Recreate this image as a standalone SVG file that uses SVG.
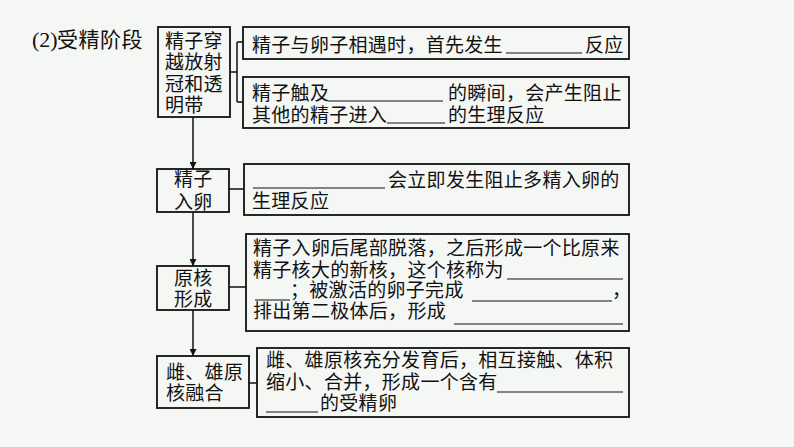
<svg xmlns="http://www.w3.org/2000/svg" width="794" height="447" viewBox="0 0 794 447">
<defs>
<marker id="ah" viewBox="0 0 10 10" refX="10" refY="5" markerWidth="7" markerHeight="7" markerUnits="userSpaceOnUse" orient="auto">
<path d="M0,0 L10,5 L0,10 Z" fill="#111"/>
</marker>
<style>
.bx{fill:none;stroke:#111;stroke-width:1.8}
.cn{fill:none;stroke:#111;stroke-width:1.5}
.t{font-family:"Noto Sans CJK SC","Liberation Sans",sans-serif;font-size:19px;fill:#111;letter-spacing:0.3px}
.ul{stroke:#111;stroke-width:1.2}
</style>
</defs>
<rect width="794" height="447" fill="#f4f7f4"/>
<g id="title">
<text x="32" y="47" font-family="Liberation Serif,serif" font-size="22" fill="#111">(2)</text>
<text x="57" y="47" class="t" style="font-size:21px;letter-spacing:0.5px">受精阶段</text>
</g>
<g id="connectors">
<path class="cn" d="M230,72 H237 M237,42 V102 M237,42 H243 M237,102 H243"/>
<path class="cn" d="M229,189 H244"/>
<path class="cn" d="M229,287 H246"/>
<path class="cn" d="M249,383 H257"/>
<line class="cn" x1="193" y1="117" x2="193" y2="169" marker-end="url(#ah)"/>
<line class="cn" x1="193" y1="212" x2="193" y2="266" marker-end="url(#ah)"/>
<line class="cn" x1="193" y1="310" x2="193" y2="356" marker-end="url(#ah)"/>
</g>
<g id="n1">
<rect class="bx" x="158" y="27" width="72" height="90"/>
<text class="t" x="165" y="48">精子穿</text>
<text class="t" x="165" y="69">越放射</text>
<text class="t" x="165" y="91">冠和透</text>
<text class="t" x="165" y="112">明带</text>
</g>
<g id="nA">
<rect class="bx" x="243" y="27" width="386" height="32"/>
<text class="t" x="252" y="52">精子与卵子相遇时，首先发生</text>
<line class="ul" x1="506" y1="53" x2="582" y2="53"/>
<text class="t" x="585" y="52">反应</text>
</g>
<g id="nB">
<rect class="bx" x="243" y="77" width="386" height="51"/>
<text class="t" x="252" y="100">精子触及</text>
<line class="ul" x1="328" y1="101" x2="443" y2="101"/>
<text class="t" x="448" y="100">的瞬间，会产生阻止</text>
<text class="t" x="252" y="122">其他的精子进入</text>
<line class="ul" x1="387" y1="123" x2="445" y2="123"/>
<text class="t" x="448" y="122">的生理反应</text>
</g>
<g id="n2">
<rect class="bx" x="157" y="169" width="72" height="43"/>
<text class="t" x="174" y="186">精子</text>
<text class="t" x="174" y="209">入卵</text>
</g>
<g id="nC">
<rect class="bx" x="244" y="164" width="385" height="51"/>
<line class="ul" x1="253" y1="188" x2="385" y2="188"/>
<text class="t" x="388" y="187">会立即发生阻止多精入卵的</text>
<text class="t" x="252" y="208">生理反应</text>
</g>
<g id="n3">
<rect class="bx" x="157" y="266" width="72" height="44"/>
<text class="t" x="174" y="285">原核</text>
<text class="t" x="174" y="306">形成</text>
</g>
<g id="nD">
<rect class="bx" x="246" y="234" width="383" height="97"/>
<text class="t" x="253" y="255">精子入卵后尾部脱落，之后形成一个比原来</text>
<text class="t" x="253" y="277">精子核大的新核，这个核称为</text>
<line class="ul" x1="507" y1="279" x2="623" y2="279"/>
<line class="ul" x1="255" y1="300" x2="290" y2="300"/>
<text class="t" x="290" y="297">；被激活的卵子完成</text>
<line class="ul" x1="472" y1="301" x2="612" y2="301"/>
<text class="t" x="612" y="297">，</text>
<text class="t" x="253" y="318">排出第二极体后，形成</text>
<line class="ul" x1="454" y1="324" x2="623" y2="324"/>
</g>
<g id="n4">
<rect class="bx" x="157" y="356" width="92" height="52"/>
<text class="t" x="166" y="379">雌、雄原</text>
<text class="t" x="166" y="400">核融合</text>
</g>
<g id="nE">
<rect class="bx" x="257" y="348" width="372" height="69"/>
<text class="t" x="266" y="367">雌、雄原核充分发育后，相互接触、体积</text>
<text class="t" x="266" y="389">缩小、合并，形成一个含有</text>
<line class="ul" x1="497" y1="392" x2="623" y2="392"/>
<line class="ul" x1="266" y1="412" x2="318" y2="412"/>
<text class="t" x="320" y="410">的受精卵</text>
</g>
</svg>
